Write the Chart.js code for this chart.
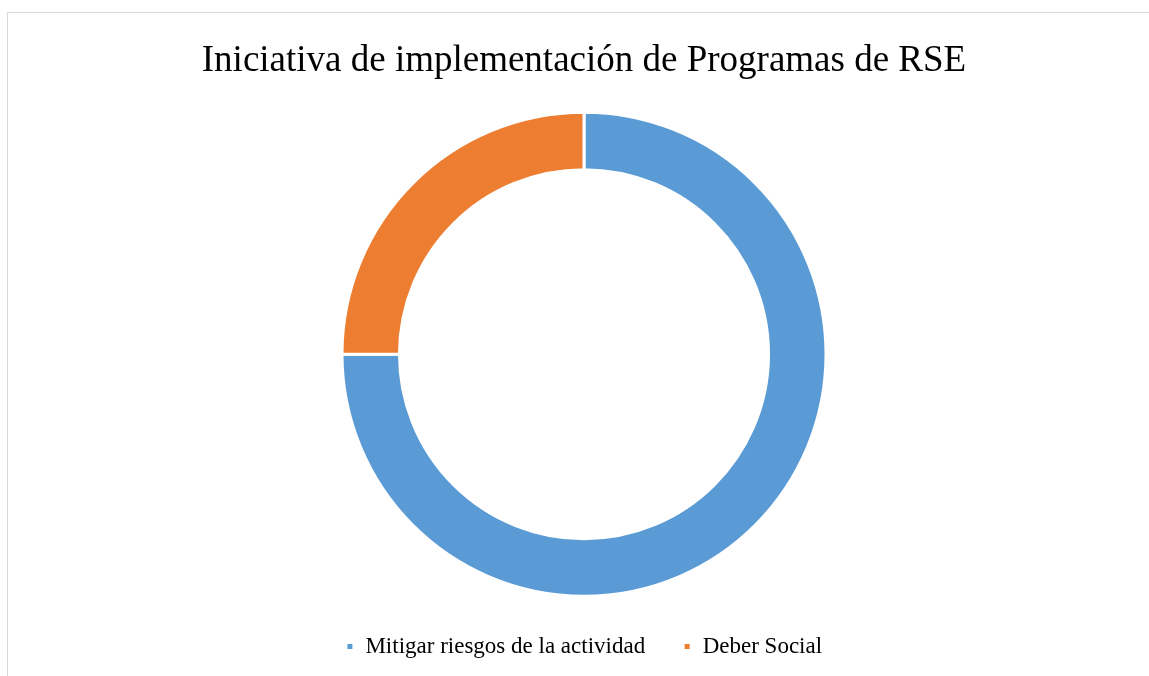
<!DOCTYPE html>
<html>
<head>
<meta charset="utf-8">
<script src="https://cdn.jsdelivr.net/npm/chart.js@4/dist/chart.umd.min.js"></script>
<style>
  html, body { margin: 0; padding: 0; background: #fff; }
  #frame {
    position: absolute; left: 7px; top: 12px; right: -5px; bottom: -5px;
    border-top: 1px solid #d9d9d9; border-left: 1px solid #d9d9d9;
  }
  #wrap { position: absolute; left: 0; top: 0; width: 1149px; height: 676px; }
</style>
</head>
<body>
<div id="frame"></div>
<div id="wrap"><canvas id="rse"></canvas></div>
<script>
const labels = ['Mitigar riesgos de la actividad', 'Deber Social'];
const values = [75, 25];
const colors = ['#5B9BD5', '#ED7D31'];

const serif = '"Liberation Serif", "Times New Roman", serif';

const config = {
  type: 'doughnut',
  data: {
    labels: labels,
    datasets: [{
      data: values,
      backgroundColor: colors,
      borderColor: '#ffffff',
      borderWidth: 3,
    }],
  },
  options: {
    responsive: true,
    maintainAspectRatio: false,
    animation: false,
    radius: 242,
    cutout: 184,
    layout: { padding: { left: 19, right: 0, top: 0, bottom: 8 } },
    plugins: {
      title: {
        display: true,
        text: 'Iniciativa de implementación de Programas de RSE',
        color: '#000000',
        font: { family: serif, size: 37, weight: 'normal' },
        padding: { top: 39, bottom: 28 },
      },
      legend: {
        position: 'bottom',
        labels: {
          color: '#000000',
          font: { family: serif, size: 23 },
          boxWidth: 8,
          boxHeight: 8,
          padding: 38,
        },
      },
      tooltip: { enabled: false },
    },
  },
};

new Chart(document.getElementById('rse'), config);
</script>
</body>
</html>
